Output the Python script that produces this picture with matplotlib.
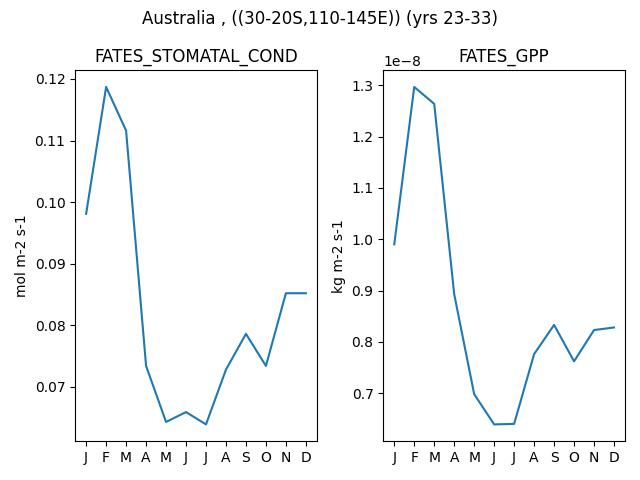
import matplotlib
matplotlib.use("Agg")
import matplotlib.pyplot as plt

months = ["J", "F", "M", "A", "M", "J", "J", "A", "S", "O", "N", "D"]
stomatal_cond = [0.0981, 0.1187, 0.1116, 0.0734, 0.0643, 0.0659, 0.0639, 0.0728, 0.0786, 0.0734, 0.0852, 0.0852]
gpp = [0.99e-8, 1.297e-8, 1.264e-8, 0.893e-8, 0.698e-8, 0.639e-8, 0.640e-8, 0.776e-8, 0.833e-8, 0.762e-8, 0.823e-8, 0.828e-8]

fig, (ax1, ax2) = plt.subplots(1, 2, figsize=(6.4, 4.8))
x = range(len(months))

ax1.plot(x, stomatal_cond)
ax1.set_title("FATES_STOMATAL_COND")
ax1.set_ylabel("mol m-2 s-1")
ax1.set_xticks(list(x))
ax1.set_xticklabels(months)

ax2.plot(x, gpp)
ax2.set_title("FATES_GPP")
ax2.set_ylabel("kg m-2 s-1")
ax2.set_xticks(list(x))
ax2.set_xticklabels(months)

fig.suptitle("Australia , ((30-20S,110-145E)) (yrs 23-33)")
fig.tight_layout()
fig.savefig("out.png", dpi=100)
